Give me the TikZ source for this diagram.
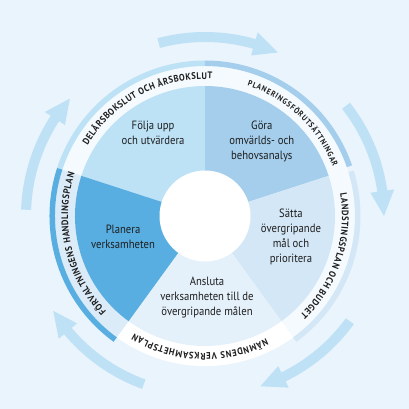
\documentclass[tikz,border=0pt]{standalone}
\usepackage{fontspec}
\setmainfont{PT Sans}[FakeStretch=0.89]
\newfontfamily\ringfont{PT Sans Bold}[FakeStretch=0.9]
\usetikzlibrary{decorations.text}

\definecolor{bgBlue}{HTML}{EAF4FC}
\definecolor{foljaBlue}{HTML}{BDE2F6}
\definecolor{goraBlue}{HTML}{A4CEEC}
\definecolor{sattaBlue}{HTML}{D4E7F6}
\definecolor{anslutaBlue}{HTML}{E5F1FA}
\definecolor{planeraBlue}{HTML}{58AEE1}
\definecolor{bandWhite}{HTML}{F5FAFE}
\definecolor{bandBlue}{HTML}{DBEBF7}
\definecolor{arrowBlue}{HTML}{BFE1F6}
\definecolor{labelText}{HTML}{1E1E1E}

\tikzset{
  ringtext/.style={decorate, decoration={text along path, text align={fit to path}, text={#1}}},
  steplabel/.style={align=center, text=labelText},
}

\begin{document}
\begin{tikzpicture}[font=\fontsize{12}{15}\selectfont]

\def\rIn{45.5pt}
\def\rSec{130pt}
\def\rBand{150pt}
\def\rArc{152.75pt}
\def\arcW{5.5pt}
\def\rTxt{137pt}
\def\rArrIn{174pt}
\def\rArrOut{184pt}
\def\rHeadIn{167pt}
\def\rHeadOut{191pt}
\def\rArrMid{179pt}

\useasboundingbox[fill=bgBlue] (-205pt,-193pt) rectangle (204pt,216pt);

\fill[arrowBlue] (178:\rArrIn) arc[start angle=178, end angle=147, radius=\rArrIn] -- (147:\rHeadIn) -- (139:\rArrMid) -- (147:\rHeadOut) -- (147:\rArrOut) arc[start angle=147, end angle=178, radius=\rArrOut] -- cycle;
\fill[arrowBlue] (105:\rArrIn) arc[start angle=105, end angle=74, radius=\rArrIn] -- (74:\rHeadIn) -- (66:\rArrMid) -- (74:\rHeadOut) -- (74:\rArrOut) arc[start angle=74, end angle=105, radius=\rArrOut] -- cycle;
\fill[arrowBlue] (38:\rArrIn) arc[start angle=38, end angle=8, radius=\rArrIn] -- (8:\rHeadIn) -- (0:\rArrMid) -- (8:\rHeadOut) -- (8:\rArrOut) arc[start angle=8, end angle=38, radius=\rArrOut] -- cycle;
\fill[arrowBlue] (-36:\rArrIn) arc[start angle=-36, end angle=-64, radius=\rArrIn] -- (-64:\rHeadIn) -- (-72:\rArrMid) -- (-64:\rHeadOut) -- (-64:\rArrOut) arc[start angle=-64, end angle=-36, radius=\rArrOut] -- cycle;
\fill[arrowBlue] (-110:\rArrIn) arc[start angle=-110, end angle=-140, radius=\rArrIn] -- (-140:\rHeadIn) -- (-148:\rArrMid) -- (-140:\rHeadOut) -- (-140:\rArrOut) arc[start angle=-140, end angle=-110, radius=\rArrOut] -- cycle;

\fill[bandWhite] (0,0) circle[radius=\rBand];
\fill[white] (0,0) -- (-126:\rBand) arc[start angle=-126, end angle=-54, radius=\rBand] -- cycle;
\fill[bandBlue] (0,0) -- (162:\rBand) arc[start angle=162, end angle=234, radius=\rBand] -- cycle;

\draw[foljaBlue, line width=\arcW] (90:\rArc) arc[start angle=90, end angle=162, radius=\rArc];
\draw[goraBlue, line width=\arcW] (19:\rArc) arc[start angle=19, end angle=90, radius=\rArc];
\draw[sattaBlue, line width=\arcW] (-54:\rArc) arc[start angle=-54, end angle=17, radius=\rArc];
\draw[planeraBlue, line width=\arcW] (162:\rArc) arc[start angle=162, end angle=234, radius=\rArc];

\fill[foljaBlue] (0,0) -- (90:\rSec) arc[start angle=90, end angle=162, radius=\rSec] -- cycle;
\fill[goraBlue] (0,0) -- (18:\rSec) arc[start angle=18, end angle=90, radius=\rSec] -- cycle;
\fill[sattaBlue] (0,0) -- (-54:\rSec) arc[start angle=-54, end angle=18, radius=\rSec] -- cycle;
\fill[anslutaBlue] (0,0) -- (-126:\rSec) arc[start angle=-126, end angle=-54, radius=\rSec] -- cycle;
\fill[planeraBlue] (0,0) -- (162:\rSec) arc[start angle=162, end angle=234, radius=\rSec] -- cycle;
\fill[white] (0,0) circle[radius=\rIn];

\node[steplabel] (folja) at (122:98pt) {Följa upp\\och utvärdera};
\node[steplabel] (gora) at (52.8:94pt) {Göra\\omvärlds- och\\behovsanalys};
\node[steplabel] (satta) at (-13.7:88.5pt) {Sätta\\övergripande\\mål och\\prioritera};
\node[steplabel] (ansluta) at (-88.6:82pt) {Ansluta\\verksamheten till de\\övergripande målen};
\node[steplabel] (planera) at (194.4:84.6pt) {Planera\\verksamheten};

\path[ringtext={|\ringfont\fontsize{9.5}{9.5}\selectfont\color{labelText}|DELÅRSBOKSLUT OCH ÅRSBOKSLUT}] (149:\rTxt) arc[start angle=149, end angle=87, radius=\rTxt];
\path[ringtext={|\ringfont\fontsize{8}{8}\selectfont\color{labelText}|PLANERINGSFÖRUTSÄTTNINGAR}] (72:\rTxt) arc[start angle=72, end angle=21, radius=\rTxt];
\path[ringtext={|\ringfont\fontsize{9.5}{9.5}\selectfont\color{labelText}|LANDSTINGSPLAN OCH BUDGET}] (9.5:\rTxt) arc[start angle=9.5, end angle=-46, radius=\rTxt];
\path[ringtext={|\ringfont\fontsize{9.5}{9.5}\selectfont\color{labelText}|NÄMNDENS VERKSAMHETSPLAN}] (-63.5:\rTxt) arc[start angle=-63.5, end angle=-121, radius=\rTxt];
\path[ringtext={|\ringfont\fontsize{9.5}{9.5}\selectfont\color{labelText}|FÖRVALTNINGENS HANDLINGSPLAN}] (224:\rTxt) arc[start angle=224, end angle=162, radius=\rTxt];

\end{tikzpicture}
\end{document}
